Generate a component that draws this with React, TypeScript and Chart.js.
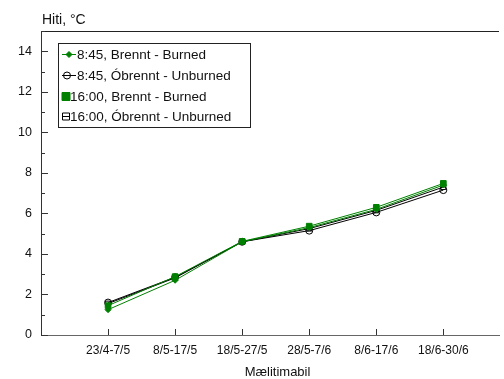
import React, { useEffect, useRef } from "react";
import { Chart, registerables } from "chart.js";

Chart.register(...registerables);

const categories = ["23/4-7/5", "8/5-17/5", "18/5-27/5", "28/5-7/6", "8/6-17/6", "18/6-30/6"];
const seriesLabels = [
  "8:45, Brennt - Burned",
  "8:45, Óbrennt - Unburned",
  "16:00, Brennt - Burned",
  "16:00, Óbrennt - Unburned",
];
const burned0845 = [1.25, 2.7, 4.6, 5.3, 6.2, 7.4];
const unburned0845 = [1.6, 2.85, 4.6, 5.15, 6.05, 7.15];
const burned1600 = [1.45, 2.88, 4.62, 5.37, 6.3, 7.48];
const unburned1600 = [1.55, 2.82, 4.6, 5.25, 6.15, 7.3];
const yMin = 0;
const yMax = 15;
const yAxisTitle = "Hiti, °C";
const xAxisTitle = "Mælitimabil";

const GREEN = "#008000";
const BLACK = "#000000";
const FONT = "'Liberation Sans', Arial, sans-serif";

type MarkerStyle = "rectRot" | "circle" | "rect" | "rectOpen";

function drawMarker(ctx: CanvasRenderingContext2D, style: string, x: number, y: number, r: number, color: string, filled: boolean) {
  ctx.save();
  ctx.beginPath();
  if (style === "circle") {
    ctx.arc(x, y, r, 0, Math.PI * 2);
  } else if (style === "rectRot") {
    ctx.moveTo(x, y - r);
    ctx.lineTo(x + r, y);
    ctx.lineTo(x, y + r);
    ctx.lineTo(x - r, y);
    ctx.closePath();
  } else {
    ctx.rect(x - r, y - r, 2 * r, 2 * r);
  }
  if (filled) {
    ctx.fillStyle = color;
    ctx.fill();
  }
  ctx.strokeStyle = color;
  ctx.lineWidth = 1;
  ctx.stroke();
  ctx.restore();
}

const decorPlugin = {
  id: "decor",
  afterDraw(chart: any) {
    const ctx: CanvasRenderingContext2D = chart.ctx;
    const area = chart.chartArea;
    const xs = chart.scales.x;
    const ys = chart.scales.y;
    ctx.save();
    // top border
    ctx.strokeStyle = "#222";
    ctx.lineWidth = 1;
    ctx.beginPath();
    ctx.moveTo(area.left, Math.round(area.top) + 0.5);
    ctx.lineTo(area.right, Math.round(area.top) + 0.5);
    ctx.stroke();
    // inward y ticks
    ctx.strokeStyle = "#333";
    for (let v = yMin; v <= yMax; v++) {
      const py = Math.round(ys.getPixelForValue(v)) + 0.5;
      const len = v % 2 === 0 ? 7 : 4;
      ctx.beginPath();
      ctx.moveTo(area.left, py);
      ctx.lineTo(area.left + len, py);
      ctx.stroke();
    }
    // inward x ticks
    for (let i = 0; i < categories.length; i++) {
      const px = Math.round(xs.getPixelForValue(i + 1)) + 0.5;
      ctx.beginPath();
      ctx.moveTo(px, area.bottom);
      ctx.lineTo(px, area.bottom - 6);
      ctx.stroke();
    }
    // y axis title
    ctx.fillStyle = "#111";
    ctx.font = `14px ${FONT}`;
    ctx.textAlign = "left";
    ctx.textBaseline = "middle";
    ctx.fillText(yAxisTitle, 42, 20);
    // x axis title
    ctx.font = `13px ${FONT}`;
    ctx.textAlign = "center";
    ctx.fillText(xAxisTitle, 277.5, 372);

    // legend
    const bx = 58.5, by = 43.5, bw = 192, bh = 84;
    ctx.fillStyle = "#fff";
    ctx.fillRect(bx, by, bw, bh);
    ctx.strokeStyle = "#222";
    ctx.lineWidth = 1;
    ctx.strokeRect(bx, by, bw, bh);
    const rowsY = [54, 75, 96, 116];
    const lineEnd = [76, 76, 69, 69];
    const textX = [77, 77, 70, 70];
    const mx = [69, 67, 66, 66];
    chart.data.datasets.forEach((ds: any, i: number) => {
      const y = rowsY[i];
      ctx.strokeStyle = ds.borderColor;
      ctx.lineWidth = 1;
      ctx.beginPath();
      ctx.moveTo(62, y + 0.5);
      ctx.lineTo(lineEnd[i], y + 0.5);
      ctx.stroke();
      drawMarker(ctx, ds.pointStyle, mx[i], y + 0.5, ds.pointRadius, ds.borderColor, ds.pointBackgroundColor !== "rgba(0,0,0,0)");
      ctx.fillStyle = "#111";
      ctx.font = `13.5px ${FONT}`;
      ctx.textAlign = "left";
      ctx.textBaseline = "middle";
      ctx.fillText(ds.label, textX[i], y + 1);
    });
    ctx.restore();
  },
};

export default function App() {
  const ref = useRef<HTMLCanvasElement | null>(null);
  useEffect(() => {
    document.body.style.margin = "0";
    const canvas = ref.current!;
    const toPoints = (arr: number[]) => arr.map((v, i) => ({ x: i + 1, y: v }));
    const chart = new Chart(canvas, {
      type: "line",
      data: {
        datasets: [
          {
            label: seriesLabels[0],
            data: toPoints(burned0845),
            borderColor: GREEN,
            backgroundColor: GREEN,
            pointBackgroundColor: GREEN,
            pointBorderColor: GREEN,
            pointStyle: "rectRot",
            pointRadius: 3,
            borderWidth: 1,
            order: 1,
          },
          {
            label: seriesLabels[1],
            data: toPoints(unburned0845),
            borderColor: BLACK,
            backgroundColor: BLACK,
            pointBackgroundColor: "rgba(0,0,0,0)",
            pointBorderColor: BLACK,
            pointStyle: "circle",
            pointRadius: 3.5,
            borderWidth: 1,
            order: 3,
          },
          {
            label: seriesLabels[2],
            data: toPoints(burned1600),
            borderColor: GREEN,
            backgroundColor: GREEN,
            pointBackgroundColor: GREEN,
            pointBorderColor: GREEN,
            pointStyle: "rect",
            pointRadius: 4,
            borderWidth: 1,
            order: 0,
          },
          {
            label: seriesLabels[3],
            data: toPoints(unburned1600),
            borderColor: BLACK,
            backgroundColor: BLACK,
            pointBackgroundColor: "rgba(0,0,0,0)",
            pointBorderColor: BLACK,
            pointStyle: "rect",
            pointRadius: 3.5,
            borderWidth: 1,
            order: 2,
          },
        ] as any,
      },
      options: {
        animation: false,
        responsive: false,
        maintainAspectRatio: false,
        layout: { padding: { top: 31, right: 0, left: 0, bottom: 0 } },
        plugins: {
          legend: { display: false },
          tooltip: { enabled: false },
          title: { display: false },
        },
        elements: { line: { tension: 0 } },
        scales: {
          x: {
            type: "linear",
            min: 0,
            max: 6.83,
            afterBuildTicks: (scale: any) => {
              scale.ticks = categories.map((_, i) => ({ value: i + 1 }));
            },
            afterFit: (scale: any) => {
              scale.height = 44;
            },
            ticks: {
              autoSkip: false,
              maxRotation: 0,
              padding: 8,
              color: "#111",
              font: { family: FONT, size: 12 },
              callback: (v: any) => categories[Number(v) - 1] ?? "",
            },
            grid: { display: true, drawOnChartArea: false, drawTicks: false },
            border: { display: true, color: "#666", width: 1 },
            title: { display: false },
          },
          y: {
            type: "linear",
            min: yMin,
            max: yMax,
            afterBuildTicks: (scale: any) => {
              const t = [];
              for (let v = yMin; v <= 14; v += 2) t.push({ value: v });
              scale.ticks = t;
            },
            afterFit: (scale: any) => {
              scale.width = 41;
            },
            ticks: {
              padding: 9,
              color: "#111",
              font: { family: FONT, size: 12.5 },
              callback: (v: any) => String(v),
            },
            grid: { display: true, drawOnChartArea: false, drawTicks: false },
            border: { display: true, color: "#333", width: 1 },
          },
        },
      },
      plugins: [decorPlugin],
    });
    return () => chart.destroy();
  }, []);
  return (
    <div style={{ position: "fixed", left: 0, top: 0, width: 504, height: 379 }}>
      <canvas ref={ref} width={504} height={379} style={{ width: 504, height: 379, display: "block" }} />
    </div>
  );
}
